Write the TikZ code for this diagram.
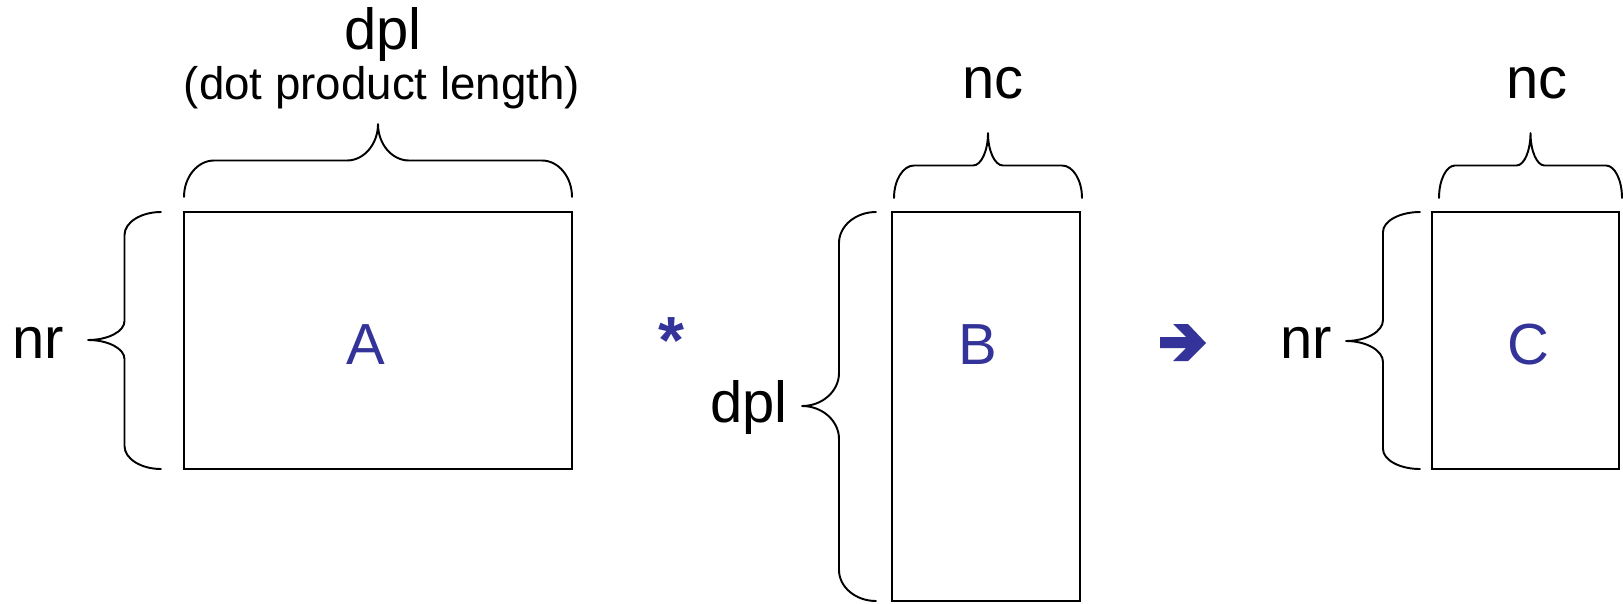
\documentclass[tikz,border=0pt]{standalone}
\usepackage{fontspec}
\setmainfont{Liberation Sans}
\definecolor{opblue}{RGB}{51,51,153}
\begin{document}
\begin{tikzpicture}[x=0.02cm,y=-0.02cm,line cap=round,line join=round,line width=1.1pt,
  every node/.style={inner sep=0pt,anchor=base},
  dim/.style={font=\fontsize{33}{40}\selectfont},
  note/.style={font=\fontsize{26}{31}\selectfont},
  mat/.style={font=\fontsize{33}{40}\selectfont,text=opblue}]
  \useasboundingbox (0,0) rectangle (1623,603);
  % brace over a matrix: left end, right end, foot, half height, corner width, tip width
  \def\topbrace#1#2#3#4#5#6{%
    \draw (#1,#3) .. controls (#1,{#3-0.55*#4}) and ({#1+0.45*#5},{#3-#4}) .. ({#1+#5},{#3-#4})
      -- ({(#1+#2)/2-#6},{#3-#4}) .. controls ({(#1+#2)/2-0.45*#6},{#3-#4}) and ({(#1+#2)/2},{#3-1.45*#4}) .. ({(#1+#2)/2},{#3-2*#4})
      .. controls ({(#1+#2)/2},{#3-1.45*#4}) and ({(#1+#2)/2+0.45*#6},{#3-#4}) .. ({(#1+#2)/2+#6},{#3-#4})
      -- ({#2-#5},{#3-#4}) .. controls ({#2-0.45*#5},{#3-#4}) and (#2,{#3-0.55*#4}) .. (#2,#3);}
  % brace left of a matrix: foot, top, bottom, tip height, half width, corner height, tip height
  \def\sidebrace#1#2#3#4#5#6#7{%
    \draw (#1,#2) .. controls ({#1-0.55*#5},#2) and ({#1-#5},{#2+0.45*#6}) .. ({#1-#5},{#2+#6})
      -- ({#1-#5},{#4-#7}) .. controls ({#1-#5},{#4-0.45*#7}) and ({#1-1.45*#5},#4) .. ({#1-2*#5},#4)
      .. controls ({#1-1.45*#5},#4) and ({#1-#5},{#4+0.45*#7}) .. ({#1-#5},{#4+#7})
      -- ({#1-#5},{#3-#6}) .. controls ({#1-#5},{#3-0.45*#6}) and ({#1-0.55*#5},#3) .. (#1,#3);}
  % matrices
  \draw[line join=miter] (184,212) rectangle (572,469);
  \draw[line join=miter] (892,212) rectangle (1080,601);
  \draw[line join=miter] (1432,212) rectangle (1619,469);
  \node[mat] (lA) at (366,364) {A};
  \node[mat] (lB) at (978,364) {B};
  \node[mat] (lC) at (1528,364) {C};
  % braces
  \topbrace{184}{572}{197}{36.5}{30}{31}
  \topbrace{894}{1082}{198}{32.5}{20}{15}
  \topbrace{1439}{1622}{198}{32.5}{16}{14}
  \sidebrace{161}{212}{469}{340}{36.5}{23}{19}
  \sidebrace{876}{212}{601}{406}{37}{31}{33}
  \sidebrace{1420}{212}{469}{341}{37}{20}{21}
  % sizes
  \node[dim] (dplA) at (383,49) {dpl};
  \node[note] (dplnote) at (382,99) {(dot product length)};
  \node[dim] (nrA) at (38,358) {nr};
  \node[dim] (dplB) at (749,422) {dpl};
  \node[dim] (ncB) at (993,98) {nc};
  \node[dim] (nrC) at (1306,358) {nr};
  \node[dim] (ncC) at (1537,98) {nc};
  % operators
  \node[mat,font=\fontsize{38}{46}\selectfont\bfseries] (times) at (671,363) {*};
  \fill[opblue] (1160,337) -- (1186,337) -- (1173,324) -- (1188,324) -- (1206,343)
    -- (1188,361) -- (1173,361) -- (1186,348) -- (1160,348) -- cycle;
\end{tikzpicture}
\end{document}
